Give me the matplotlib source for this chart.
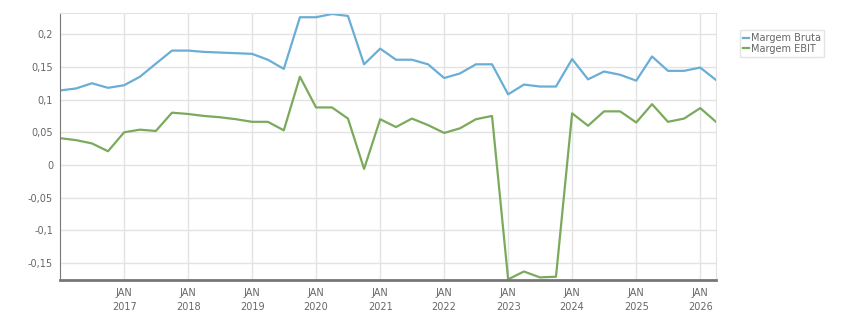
import matplotlib
matplotlib.use("Agg")
import matplotlib.pyplot as plt
import pandas as pd

quarters = pd.date_range("2016-01-01", "2026-04-01", freq="QS")

margem_bruta = [0.114, 0.117, 0.125, 0.118, 0.122, 0.135, 0.155, 0.175,
                0.175, 0.173, 0.172, 0.171, 0.170, 0.161, 0.147, 0.226,
                0.226, 0.231, 0.228, 0.154, 0.178, 0.161, 0.161, 0.154,
                0.133, 0.140, 0.154, 0.154, 0.108, 0.123, 0.120, 0.120,
                0.162, 0.131, 0.143, 0.138, 0.129, 0.166, 0.144, 0.144,
                0.149, 0.130]
margem_ebit = [0.041, 0.038, 0.033, 0.021, 0.050, 0.054, 0.052, 0.080,
               0.078, 0.075, 0.073, 0.070, 0.066, 0.066, 0.053, 0.135,
               0.088, 0.088, 0.071, -0.006, 0.070, 0.058, 0.071, 0.061,
               0.049, 0.056, 0.070, 0.075, -0.175, -0.163, -0.172, -0.171,
               0.079, 0.060, 0.082, 0.082, 0.065, 0.093, 0.066, 0.071,
               0.087, 0.066]

y_ticks = [-0.15, -0.1, -0.05, 0, 0.05, 0.1, 0.15, 0.2]
y_labels = ["-0,15", "-0,1", "-0,05", "0", "0,05", "0,1", "0,15", "0,2"]
x_years = list(range(2017, 2027))

fig = plt.figure(figsize=(8.51, 3.13), dpi=100)
ax = fig.add_axes([60/851, 1-280/313, 656/851, 267/313])

ax.plot(quarters, margem_bruta, color="#6aaed6", lw=1.6, label="Margem Bruta")
ax.plot(quarters, margem_ebit, color="#7baa5c", lw=1.6, label="Margem EBIT")

ax.set_ylim(-0.176, 0.2325)
ax.set_xlim(pd.Timestamp("2016-01-01"), pd.Timestamp("2026-04-01"))
ax.set_yticks(y_ticks)
ax.set_yticklabels(y_labels)
xt = [pd.Timestamp(f"{y}-01-01") for y in x_years]
ax.set_xticks(xt)
ax.set_xticklabels([f"JAN\n{y}" for y in x_years], linespacing=1.5)

ax.grid(True, color="#e3e3e3", lw=1)
ax.set_axisbelow(True)
for s in ["top", "right"]:
    ax.spines[s].set_color("#e3e3e3")
ax.spines["left"].set_color("#777777")
ax.spines["bottom"].set_color("#777777")
ax.spines["bottom"].set_linewidth(2)
ax.tick_params(axis="both", length=0, labelsize=7, labelcolor="#666666", pad=5)
ax.tick_params(axis="x", pad=6)

leg = ax.legend(loc="upper left", bbox_to_anchor=(740/851, 1-30/313),
                bbox_transform=fig.transFigure, fontsize=7, frameon=True,
                handlelength=0.6, handletextpad=0.2, borderpad=0.3,
                labelspacing=0.1, fancybox=False, borderaxespad=0)
leg.get_frame().set_edgecolor("#dddddd")
leg.get_frame().set_linewidth(1)
for t in leg.get_texts():
    t.set_color("#666666")

fig.savefig("out.png", dpi=100)
